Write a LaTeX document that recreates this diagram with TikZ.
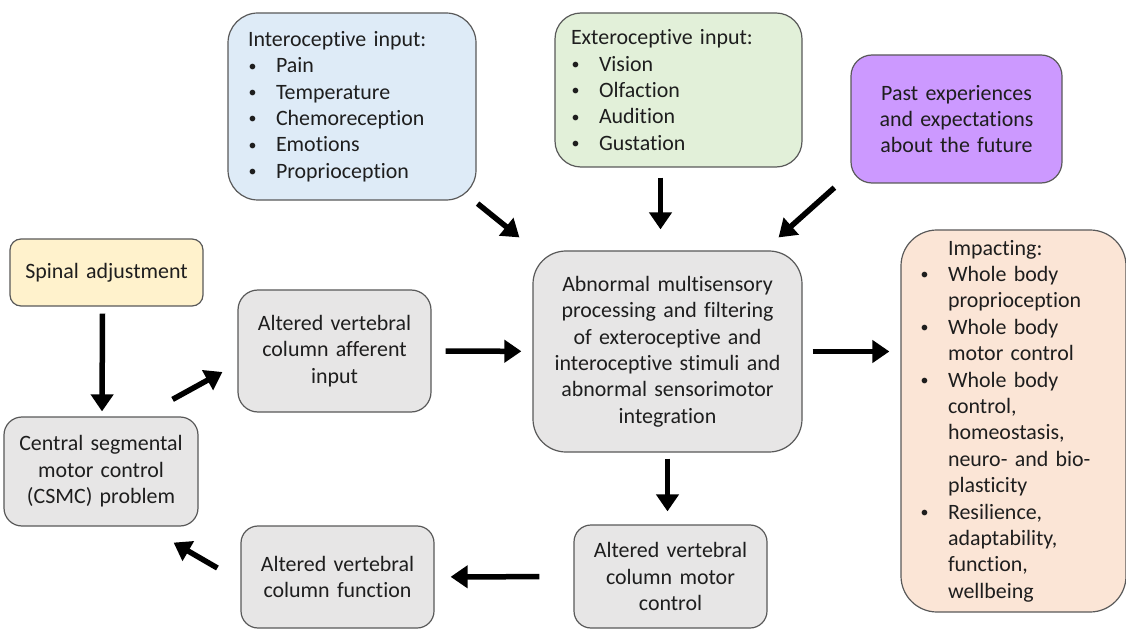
\documentclass[tikz,border=0pt]{standalone}
\usepackage{fontspec}
\setmainfont{Carlito}[Ligatures=NoCommon]
\usepackage{xcolor}
\usepackage{tikz}
\usetikzlibrary{arrows.meta}
\usetikzlibrary{positioning}
\usetikzlibrary{calc}
\definecolor{edge}{HTML}{595959}
\definecolor{ink}{HTML}{1E1E1E}
\definecolor{f_blue}{HTML}{DEEBF7}
\definecolor{f_green}{HTML}{E2F0D9}
\definecolor{f_purple}{HTML}{CC99FF}
\definecolor{f_yellow}{HTML}{FFF2CC}
\definecolor{f_grey}{HTML}{E7E6E6}
\definecolor{f_peach}{HTML}{FBE5D6}
\tikzset{
  box/.style = {draw=edge, line width=1.2bp, text=ink, inner sep=0pt,
    font=\fontsize{22}{26.5}\selectfont},
  box_c/.style = {box, align=center, text width=190bp},% centred text
  box_l/.style = {box, align=left},% bullet list
  box_g/.style = {box_c, fill=f_grey},% grey step of the loop
  flow/.style = {->, line width=5.5bp, black}
}
\newcommand{\bul}{\makebox[28bp][l]{\hspace{0.5bp}\raisebox{1.5bp}{\fontsize{16}{16}\selectfont\textbullet}}}
\newcommand{\ind}{\hspace*{28bp}}

\begin{document}
\begin{tikzpicture}[x=1bp,y=-1bp,>={Triangle[width=22bp,length=17bp]}]
\useasboundingbox (0,0) rectangle (1126,630);

% inputs
\node [box_l, fill=f_blue, minimum width=248bp, minimum height=187bp,
  text width=208bp, rounded corners=30bp] (intero) at (352,106.5)
  {Interoceptive input:\\ \bul Pain\\ \bul Temperature\\ \bul Chemoreception\\
   \bul Emotions\\ \bul Proprioception};
\node [box_l, fill=f_green, minimum width=247bp, minimum height=154bp,
  text width=215bp, rounded corners=26bp] (extero) at (678.5,90)
  {Exteroceptive input:\\ \bul Vision\\ \bul Olfaction\\ \bul Audition\\
   \bul Gustation};
\node [box_c, fill=f_purple, minimum width=211bp, minimum height=128bp,
  rounded corners=21bp] (past) at (956.5,119)
  {Past experiences\\ and expectations\\ about the future};

% centre and output
\node [box_g, minimum width=269bp, minimum height=201bp, text width=260bp,
  rounded corners=33bp] (abnormal) at (667.5,351.5)
  {Abnormal multisensory\\ processing and filtering\\ of exteroceptive and\\
   interoceptive stimuli and\\ abnormal sensorimotor\\ integration};
\node [box_l, fill=f_peach, minimum width=225bp, minimum height=382bp,
  text width=187bp, rounded corners=36bp] (impact) at (1013.5,421)
  {\ind Impacting:\\ \bul Whole body\\ \ind proprioception\\ \bul Whole body\\
   \ind motor control\\ \bul Whole body\\ \ind control,\\ \ind homeostasis,\\
   \ind neuro- and bio-\\ \ind plasticity\\ \bul Resilience,\\ \ind adaptability,\\
   \ind function,\\ \ind wellbeing};

% vertebral loop
\node [box_c, fill=f_yellow, minimum width=193bp, minimum height=67bp,
  rounded corners=11bp] (spinal) at (106.5,272.5) {Spinal adjustment};
\node [box_g, minimum width=193bp, minimum height=122bp,
  rounded corners=20bp] (afferent) at (334.5,351)
  {Altered vertebral\\ column afferent\\ input};
\node [box_g, minimum width=194bp, minimum height=109bp,
  rounded corners=18bp] (csmc) at (101,471.5)
  {Central segmental\\ motor control\\ (CSMC) problem};
\node [box_g, minimum width=193bp, minimum height=102bp,
  rounded corners=17bp] (function) at (337.5,577)
  {Altered vertebral\\ column function};
\node [box_g, minimum width=193bp, minimum height=103bp,
  rounded corners=17bp] (motor) at (670.5,576.5)
  {Altered vertebral\\ column motor\\ control};

% arrows
\draw [flow] ([xshift=1bp,yshift=-3bp]intero.south east)
  -- ([xshift=-13bp,yshift=13bp]abnormal.north west);
\draw [flow, shorten <=10bp, shorten >=21bp] ([xshift=-18bp]extero.south)
  -- ([xshift=-18bp]extero.south |- abnormal.north);
\draw [flow] ([xshift=-16bp,yshift=-4bp]past.south west)
  -- ([xshift=-24bp,yshift=13bp]abnormal.north east);
\draw [flow, shorten <=14bp, shorten >=11bp] (afferent) -- (abnormal);
\draw [flow, shorten <=10bp, shorten >=11bp] (abnormal.east)
  -- (abnormal.east -| impact.west);
\draw [flow, shorten <=6bp, shorten >=13bp] (abnormal.south)
  -- (abnormal.south |- motor.north);
\draw [flow, shorten <=34bp, shorten >=16bp] (motor) -- (function);
\draw [flow] ([xshift=-23bp,yshift=9bp]function.west)
  -- ([xshift=-25bp,yshift=-16bp]csmc.south east);
\draw [flow] ([xshift=-4bp,yshift=-7bp]spinal.south)
  -- ([xshift=1bp,yshift=5bp]csmc.north);
\draw [flow] ([xshift=-26bp,yshift=17bp]csmc.north east)
  -- ([xshift=-15bp,yshift=-21bp]afferent.west);
\end{tikzpicture}
\end{document}
